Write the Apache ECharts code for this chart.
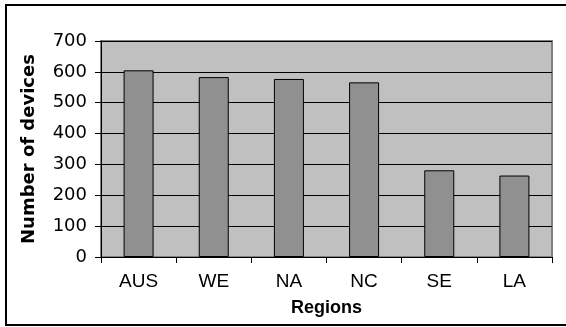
<!DOCTYPE html>
<html>
<head>
<meta charset="utf-8">
<style>
  html, body { margin: 0; padding: 0; background: #fff; }
  #chart { width: 566px; height: 327px; }
</style>
<script src="https://cdn.jsdelivr.net/npm/echarts@6/dist/echarts.min.js"></script>
</head>
<body>
<div id="chart"></div>
<script>
// Device counts per region
const regions = ['AUS', 'WE', 'NA', 'NC', 'SE', 'LA'];
const deviceCounts = [605, 583, 577, 566, 281, 264];
const yTicks = [0, 100, 200, 300, 400, 500, 600, 700];

const chart = echarts.init(document.getElementById('chart'), null, { renderer: 'canvas' });

const font = 'Liberation Sans, Arial, sans-serif';
const wideFont = 'DejaVu Sans, Liberation Sans, sans-serif';

chart.setOption({
  animation: false,
  backgroundColor: '#ffffff',
  graphic: [{
    type: 'rect',
    shape: { x: 6, y: 5, width: 620, height: 320 },
    style: { fill: 'none', stroke: '#000', lineWidth: 2 },
    silent: true,
    z: 0
  }],
  grid: {
    left: 101, top: 41, width: 451, height: 216,
    show: true,
    backgroundColor: '#c0c0c0',
    borderColor: '#808080',
    borderWidth: 2
  },
  xAxis: {
    type: 'category',
    data: regions,
    name: 'Regions',
    nameLocation: 'middle',
    nameGap: 42,
    nameTextStyle: { fontFamily: font, fontWeight: 'bold', fontSize: 18, color: '#000' },
    axisLine: { lineStyle: { color: '#000', width: 1 } },
    axisTick: { show: true, length: 6, lineStyle: { color: '#000' } },
    axisLabel: { fontFamily: font, fontSize: 19, color: '#000', margin: 15 },
    splitLine: { show: false }
  },
  yAxis: {
    type: 'value',
    min: yTicks[0],
    max: yTicks[yTicks.length - 1],
    interval: 100,
    name: 'Number of devices',
    nameLocation: 'middle',
    nameGap: 63,
    nameTextStyle: { fontFamily: wideFont, fontWeight: 'bold', fontSize: 18, color: '#000' },
    axisLine: { show: true, lineStyle: { color: '#000', width: 1 } },
    axisTick: { show: true, length: 6, lineStyle: { color: '#000' } },
    axisLabel: { fontFamily: wideFont, fontSize: 18, color: '#000', margin: 14 },
    splitLine: { show: true, lineStyle: { color: '#000', width: 1 } }
  },
  series: [{
    type: 'bar',
    data: deviceCounts,
    barWidth: 30,
    itemStyle: { color: '#909090', borderColor: '#000', borderWidth: 1 }
  }]
});
</script>
</body>
</html>
